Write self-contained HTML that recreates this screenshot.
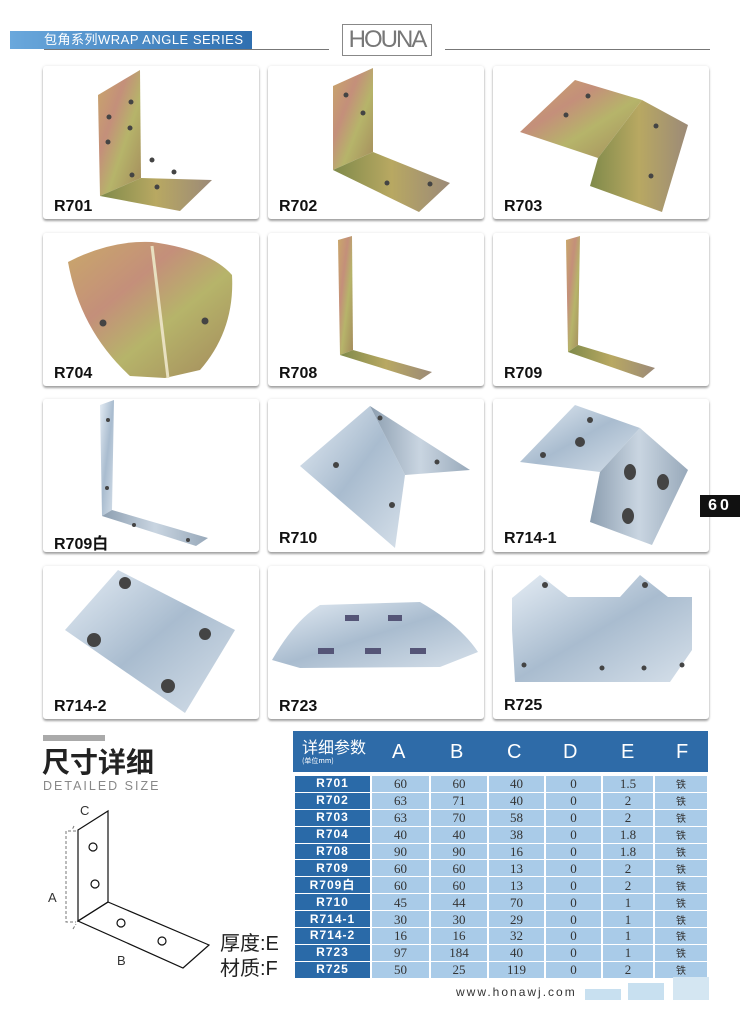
<!DOCTYPE html>
<html><head><meta charset="utf-8"><style>
*{margin:0;padding:0;box-sizing:border-box}
body{width:750px;height:1011px;background:#fff;position:relative;overflow:hidden;font-family:"Liberation Sans","Noto Sans CJK SC",sans-serif}
.card{position:absolute;width:216px;height:153px;background:#fff;border-radius:3px;box-shadow:0 2px 2px rgba(0,0,0,.35),0 0 3px rgba(0,0,0,.1)}
.lbl{position:absolute;font-weight:bold;font-size:16px;color:#111;z-index:3}
svg.ov{position:absolute;left:0;top:0;z-index:2}
table{position:absolute;left:293px;top:775px;border-collapse:separate;border-spacing:2px 1px;font-family:"Liberation Serif","Noto Serif CJK SC",serif;font-size:13px;color:#333}
td{height:15.9px;background:#a9cbe8;text-align:center;padding:0;line-height:15px}
td.n{background:#2a6aa8;color:#fff;font-family:"Liberation Sans","Noto Sans CJK SC",sans-serif;font-weight:bold;font-size:12px;width:75px;letter-spacing:1px}
td.f{font-size:10px;font-family:"Noto Sans CJK SC",sans-serif}
</style></head><body>
<div style="position:absolute;left:10px;top:31px;width:242px;height:18px;background:linear-gradient(90deg,#6aa8dc,#2f6fb0)"></div>
<div style="position:absolute;left:44px;top:31px;color:#fff;font-size:13px;letter-spacing:.5px;line-height:18px">包角系列WRAP ANGLE SERIES</div>
<div style="position:absolute;left:44px;top:49px;width:285px;height:1px;background:#777"></div>
<div style="position:absolute;left:445px;top:49px;width:265px;height:1px;background:#777"></div>
<div style="position:absolute;left:342px;top:24px;width:90px;height:32px;border:1px solid #888;color:#777;font-size:24px;line-height:30px;text-align:center;letter-spacing:-2px;overflow:hidden;white-space:nowrap">HOUNA</div>

<div class="card" style="left:43px;top:66px"></div><div class="card" style="left:268px;top:66px"></div><div class="card" style="left:493px;top:66px"></div>
<div class="card" style="left:43px;top:233px"></div><div class="card" style="left:268px;top:233px"></div><div class="card" style="left:493px;top:233px"></div>
<div class="card" style="left:43px;top:399px"></div><div class="card" style="left:268px;top:399px"></div><div class="card" style="left:493px;top:399px"></div>
<div class="card" style="left:43px;top:566px"></div><div class="card" style="left:268px;top:566px"></div><div class="card" style="left:493px;top:566px"></div>
<div class="lbl" style="left:54px;top:198px">R701</div><div class="lbl" style="left:279px;top:198px">R702</div><div class="lbl" style="left:504px;top:198px">R703</div>
<div class="lbl" style="left:54px;top:365px">R704</div><div class="lbl" style="left:279px;top:365px">R708</div><div class="lbl" style="left:504px;top:365px">R709</div>
<div class="lbl" style="left:54px;top:530px">R709白</div><div class="lbl" style="left:279px;top:530px">R710</div><div class="lbl" style="left:504px;top:530px">R714-1</div>
<div class="lbl" style="left:54px;top:698px">R714-2</div><div class="lbl" style="left:279px;top:698px">R723</div><div class="lbl" style="left:504px;top:697px">R725</div>

<svg class="ov" width="750" height="1011">
<defs>
<linearGradient id="y" x1="0" y1="0" x2="1" y2="1"><stop offset="0" stop-color="#c9a86a"/><stop offset=".35" stop-color="#c48f7a"/><stop offset=".6" stop-color="#b6b46a"/><stop offset="1" stop-color="#a48a5c"/></linearGradient>
<linearGradient id="y2" x1="0" y1="0" x2="1" y2="0"><stop offset="0" stop-color="#7f8a4a"/><stop offset=".5" stop-color="#b8a862"/><stop offset="1" stop-color="#9c8a78"/></linearGradient>
<linearGradient id="s" x1="0" y1="0" x2="1" y2="1"><stop offset="0" stop-color="#e4ecf4"/><stop offset=".5" stop-color="#a9bccf"/><stop offset="1" stop-color="#d6e0ea"/></linearGradient>
<linearGradient id="s2" x1="0" y1="0" x2="1" y2="0"><stop offset="0" stop-color="#8c9eb0"/><stop offset=".5" stop-color="#c9d5e1"/><stop offset="1" stop-color="#98a9ba"/></linearGradient>
</defs>
<g fill="#444">
<polygon points="98,95 140,70 141,178 100,196" fill="url(#y)"/><polygon points="100,196 141,178 212,180 180,211" fill="url(#y2)"/>
<circle cx="109" cy="117" r="2.5"/><circle cx="131" cy="102" r="2.5"/><circle cx="130" cy="128" r="2.5"/><circle cx="108" cy="142" r="2.5"/><circle cx="152" cy="160" r="2.5"/><circle cx="132" cy="175" r="2.5"/><circle cx="174" cy="172" r="2.5"/><circle cx="157" cy="187" r="2.5"/>
<polygon points="333,86 373,68 373,152 333,170" fill="url(#y)"/><polygon points="333,170 373,152 450,183 419,212" fill="url(#y2)"/>
<circle cx="346" cy="95" r="2.5"/><circle cx="363" cy="113" r="2.5"/><circle cx="387" cy="183" r="2.5"/><circle cx="430" cy="184" r="2.5"/>
<polygon points="520,132 575,80 642,100 598,158" fill="url(#y)"/><polygon points="598,158 642,100 688,125 662,212 590,186" fill="url(#y2)"/>
<circle cx="566" cy="115" r="2.5"/><circle cx="588" cy="96" r="2.5"/><circle cx="656" cy="126" r="2.5"/><circle cx="651" cy="176" r="2.5"/>
<path d="M68,262 Q110,240 152,242 Q210,250 232,275 Q235,330 200,370 L165,378 L130,376 Q80,330 68,262Z" fill="url(#y)"/><path d="M152,246 L168,378" stroke="#e8e0c0" stroke-width="3"/>
<circle cx="103" cy="323" r="3.5"/><circle cx="205" cy="321" r="3.5"/>
<polygon points="338,240 352,236 353,350 340,355" fill="url(#y)"/><polygon points="340,355 353,350 432,372 420,380" fill="url(#y2)"/>
<polygon points="566,240 580,236 578,345 568,352" fill="url(#y)"/><polygon points="568,352 578,345 655,368 643,378" fill="url(#y2)"/>
<polygon points="100,405 114,400 112,510 102,516" fill="url(#s)"/><polygon points="102,516 112,510 208,538 196,546" fill="url(#s2)"/>
<circle cx="108" cy="420" r="2"/><circle cx="107" cy="488" r="2"/><circle cx="134" cy="525" r="2"/><circle cx="188" cy="540" r="2"/>
<polygon points="300,466 370,406 405,475 395,548" fill="url(#s)"/><polygon points="370,406 470,470 405,475" fill="url(#s2)"/>
<circle cx="336" cy="465" r="3"/><circle cx="392" cy="505" r="3"/><circle cx="380" cy="418" r="2.5"/><circle cx="437" cy="462" r="2.5"/>
<polygon points="520,462 575,405 640,428 600,472" fill="url(#s)"/><polygon points="600,472 640,428 688,470 652,545 590,522" fill="url(#s2)"/>
<circle cx="580" cy="442" r="5"/><circle cx="543" cy="455" r="3"/><circle cx="590" cy="420" r="3"/><ellipse cx="630" cy="472" rx="6" ry="8"/><ellipse cx="663" cy="482" rx="6" ry="8"/><ellipse cx="628" cy="516" rx="6" ry="8"/>
<polygon points="65,630 118,570 235,630 185,713" fill="url(#s)"/>
<circle cx="125" cy="583" r="6"/><circle cx="205" cy="634" r="6"/><circle cx="94" cy="640" r="7"/><circle cx="168" cy="686" r="7"/>
<path d="M272,660 Q295,620 320,605 L420,602 Q460,625 478,652 L440,667 L300,668Z" fill="url(#s)"/>
<rect x="345" y="615" width="14" height="6" fill="#557"/><rect x="388" y="615" width="14" height="6" fill="#557"/><rect x="318" y="648" width="16" height="6" fill="#557"/><rect x="365" y="648" width="16" height="6" fill="#557"/><rect x="410" y="648" width="16" height="6" fill="#557"/>
<polygon points="512,598 540,575 568,597 620,597 640,575 668,597 692,597 692,650 670,682 515,682 512,630" fill="url(#s)"/>
<circle cx="524" cy="665" r="2.5"/><circle cx="602" cy="668" r="2.5"/><circle cx="644" cy="668" r="2.5"/><circle cx="682" cy="665" r="2.5"/><circle cx="545" cy="585" r="3"/><circle cx="645" cy="585" r="3"/>
</g>
<g fill="none" stroke="#111" stroke-width="1.2">
<polygon points="78,830 108,811 108,902 78,921"/><polygon points="78,921 108,902 209,945 183,968"/>
<circle cx="93" cy="847" r="4"/><circle cx="95" cy="884" r="4"/><circle cx="121" cy="923" r="4"/><circle cx="162" cy="941" r="4"/>
</g>
<g fill="none" stroke="#777" stroke-width="1" stroke-dasharray="3,2">
<polyline points="76,831 66,831 66,922 76,922"/><polyline points="74,826 72,830 M74,826 104,808 108,810"/><polyline points="73,929 76,924 M73,929 178,978 182,974"/>
</g>
<text x="48" y="902" font-size="13" fill="#333" font-family="Liberation Sans">A</text>
<text x="80" y="815" font-size="13" fill="#333" font-family="Liberation Sans">C</text>
<text x="117" y="965" font-size="13" fill="#333" font-family="Liberation Sans">B</text>
</svg>

<div style="position:absolute;left:43px;top:735px;width:62px;height:6px;background:#aaa"></div>
<div style="position:absolute;left:42px;top:744px;font-size:28px;font-weight:bold;color:#222;line-height:34px;font-family:'Noto Sans CJK SC',sans-serif">尺寸详细</div>
<div style="position:absolute;left:43px;top:779px;font-size:12.5px;color:#888;letter-spacing:2px">DETAILED SIZE</div>
<div style="position:absolute;left:220px;top:932px;width:70px;white-space:nowrap;font-size:20px;color:#222;line-height:25px;font-family:'Liberation Sans','Noto Sans CJK SC',sans-serif">厚度:E<br>材质:F</div>

<div style="position:absolute;left:700px;top:495px;width:40px;height:22px;background:#111;color:#fff;font-weight:bold;font-size:16px;text-align:center;line-height:22px;letter-spacing:3px">60</div>

<div style="position:absolute;left:293px;top:731px;width:415px;height:41px;background:#2e6ba8"></div>
<div style="position:absolute;left:302px;top:736px;color:#fff;font-size:16px;font-family:'Noto Sans CJK SC',sans-serif;line-height:20px">详细参数</div>
<div style="position:absolute;left:302px;top:756px;color:#fff;font-size:7px;font-family:'Noto Sans CJK SC',sans-serif">(单位mm)</div>
<div style="position:absolute;top:741px;left:0;color:#fff;font-size:20px;font-family:'Liberation Sans'">
<span style="position:absolute;left:392px">A</span><span style="position:absolute;left:450px">B</span><span style="position:absolute;left:507px">C</span><span style="position:absolute;left:563px">D</span><span style="position:absolute;left:621px">E</span><span style="position:absolute;left:676px">F</span></div>

<table>
<tr><td class="n">R701</td><td style="width:57px">60</td><td style="width:56px">60</td><td style="width:55px">40</td><td style="width:55px">0</td><td style="width:50px">1.5</td><td class="f" style="width:52px">铁</td></tr>
<tr><td class="n">R702</td><td>63</td><td>71</td><td>40</td><td>0</td><td>2</td><td class="f">铁</td></tr>
<tr><td class="n">R703</td><td>63</td><td>70</td><td>58</td><td>0</td><td>2</td><td class="f">铁</td></tr>
<tr><td class="n">R704</td><td>40</td><td>40</td><td>38</td><td>0</td><td>1.8</td><td class="f">铁</td></tr>
<tr><td class="n">R708</td><td>90</td><td>90</td><td>16</td><td>0</td><td>1.8</td><td class="f">铁</td></tr>
<tr><td class="n">R709</td><td>60</td><td>60</td><td>13</td><td>0</td><td>2</td><td class="f">铁</td></tr>
<tr><td class="n">R709白</td><td>60</td><td>60</td><td>13</td><td>0</td><td>2</td><td class="f">铁</td></tr>
<tr><td class="n">R710</td><td>45</td><td>44</td><td>70</td><td>0</td><td>1</td><td class="f">铁</td></tr>
<tr><td class="n">R714-1</td><td>30</td><td>30</td><td>29</td><td>0</td><td>1</td><td class="f">铁</td></tr>
<tr><td class="n">R714-2</td><td>16</td><td>16</td><td>32</td><td>0</td><td>1</td><td class="f">铁</td></tr>
<tr><td class="n">R723</td><td>97</td><td>184</td><td>40</td><td>0</td><td>1</td><td class="f">铁</td></tr>
<tr><td class="n">R725</td><td>50</td><td>25</td><td>119</td><td>0</td><td>2</td><td class="f">铁</td></tr>
</table>

<div style="position:absolute;left:456px;top:985px;font-size:12px;color:#333;letter-spacing:2px">www.honawj.com</div>
<div style="position:absolute;left:585px;top:989px;width:36px;height:11px;background:#c8e0f0"></div>
<div style="position:absolute;left:628px;top:983px;width:36px;height:17px;background:#c8e0f0"></div>
<div style="position:absolute;left:673px;top:977px;width:36px;height:23px;background:#d4e6f2"></div>
</body></html>
